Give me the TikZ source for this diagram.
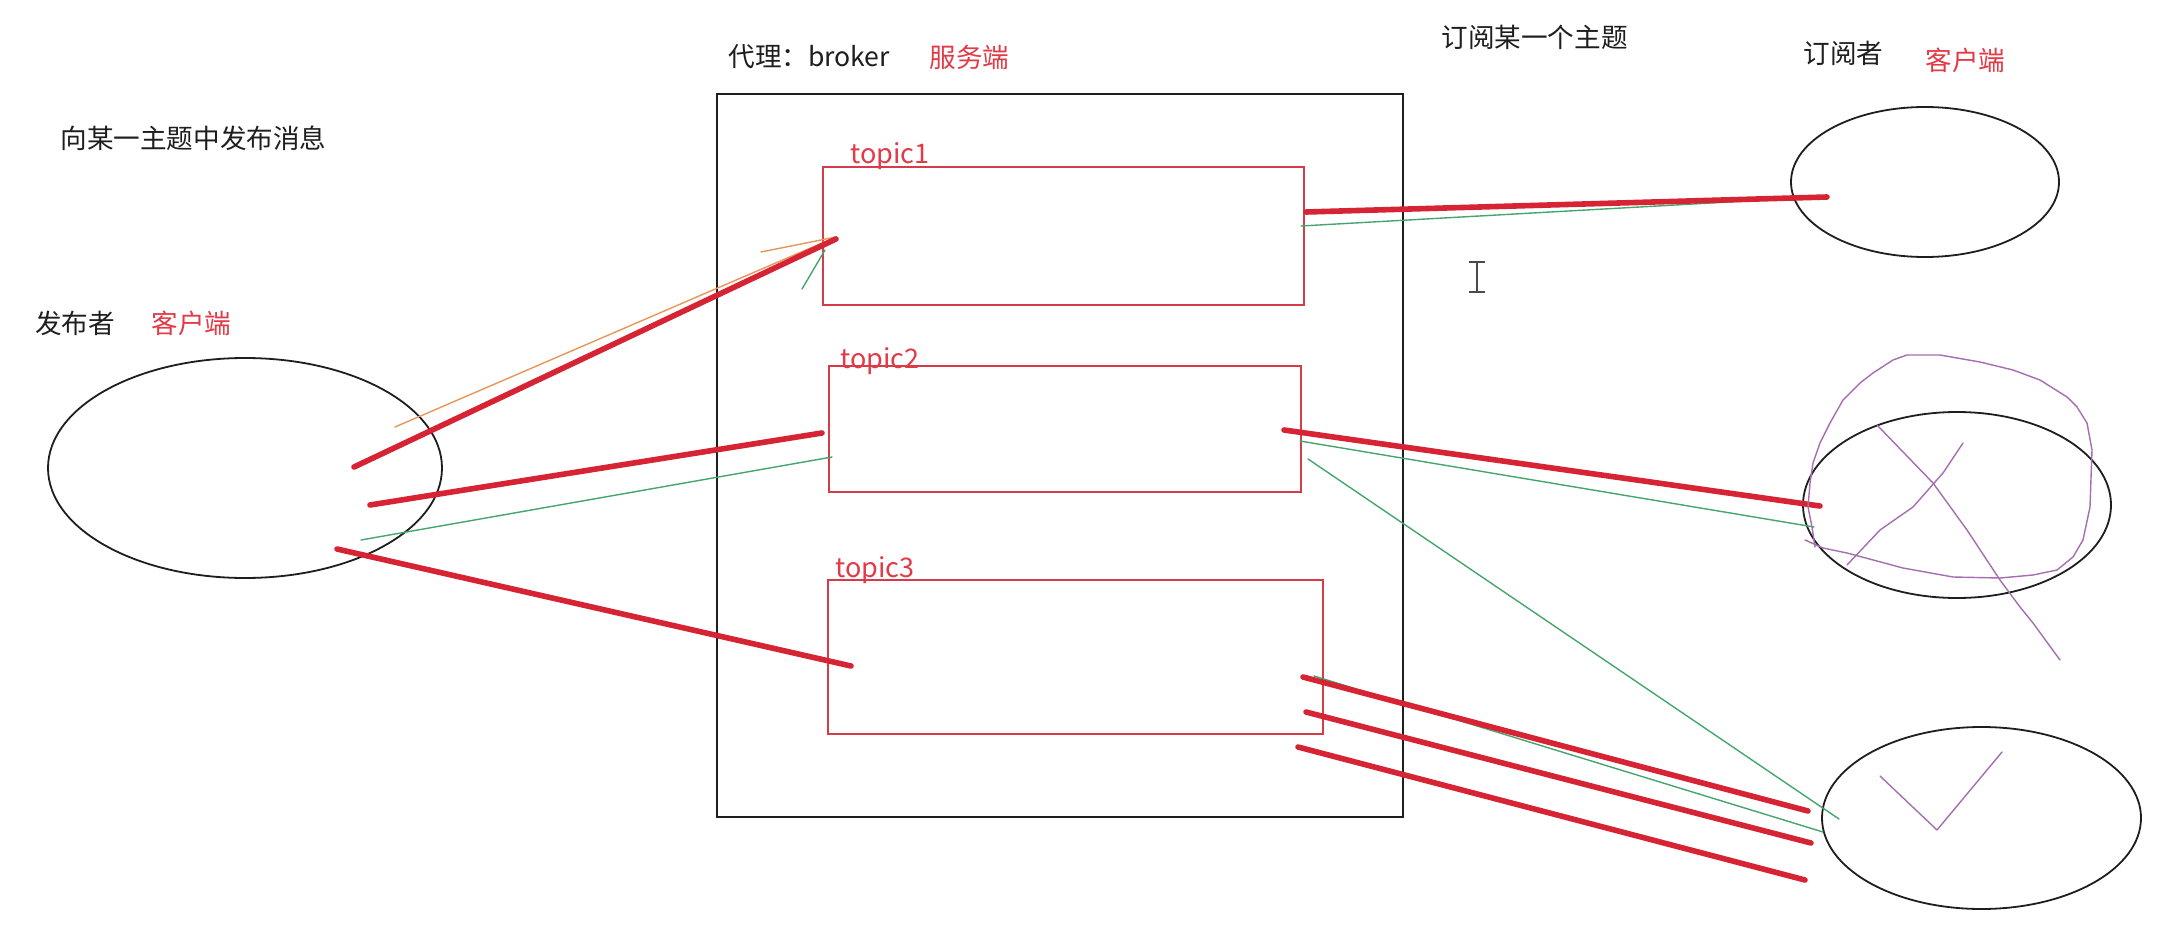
\documentclass[tikz,border=0pt]{standalone}
\usepackage{fontspec}
\setmainfont{Noto Sans CJK SC}
\usetikzlibrary{shapes.geometric}
\definecolor{inkred}{RGB}{214,36,52}
\definecolor{txtred}{RGB}{226,58,70}
\definecolor{boxred}{RGB}{214,60,72}
\definecolor{inkgreen}{RGB}{70,165,110}
\definecolor{inkorange}{RGB}{232,150,90}
\definecolor{inkpurple}{RGB}{165,110,175}
\definecolor{inkblack}{RGB}{30,30,30}
\tikzset{
  blackbox/.style={draw=inkblack, line width=0.9pt, inner sep=0pt, outer sep=0pt, rectangle},
  topicbox/.style={draw=boxred, line width=0.75pt, inner sep=0pt, outer sep=0pt, rectangle},
  client/.style={draw=inkblack, line width=0.9pt, inner sep=0pt, outer sep=0pt, ellipse},
  lbl/.style={inner sep=0pt, anchor=west, font=\fontsize{13.3}{16}\selectfont, text=inkblack},
  redlbl/.style={lbl, text=txtred},
  topiclbl/.style={lbl, text=txtred, font=\fontsize{13.5}{16}\selectfont},
  thick red/.style={draw=inkred, line width=2.8pt, line cap=round},
  thin green/.style={draw=inkgreen, line width=0.7pt, line cap=round},
  thin orange/.style={draw=inkorange, line width=0.7pt, line cap=round},
  scribble/.style={draw=inkpurple, line width=0.7pt, line cap=round, line join=round},
}
\begin{document}
\begin{tikzpicture}[x=0.5pt, y=-0.5pt]
\useasboundingbox[fill=white] (0,0) rectangle (2160,937);

% texts
\node[lbl] (brokerlbl) at (728,57) {代理：broker};
\node[redlbl] (serverlbl) at (929,57) {服务端};
\node[lbl] (pubmsg) at (60,138) {向某一主题中发布消息};
\node[lbl] (publbl) at (35,323) {发布者};
\node[redlbl] (pubclient) at (151,323) {客户端};
\node[lbl] (submsg) at (1441,37) {订阅某一个主题};
\node[lbl] (sublbl) at (1803,53) {订阅者};
\node[redlbl] (subclient) at (1925,60) {客户端};

% broker and topics
\node[blackbox, minimum width=343pt, minimum height=361.5pt] (broker) at (1060,455.5) {};
\node[topicbox, minimum width=240.5pt, minimum height=69pt] (topic1) at (1063.5,236) {};
\node[topicbox, minimum width=236pt, minimum height=63pt] (topic2) at (1065,429) {};
\node[topicbox, minimum width=247.5pt, minimum height=77pt] (topic3) at (1075.5,657) {};
\node[topiclbl] (t1lbl) at (850,156) {topic1};
\node[topiclbl] (t2lbl) at (840,361) {topic2};
\node[topiclbl] (t3lbl) at (835,570) {topic3};

% clients
\node[client, minimum width=197pt, minimum height=110pt] (pub) at (245,468) {};
\node[client, minimum width=134pt, minimum height=75pt] (sub1) at (1925,182) {};
\node[client, minimum width=154pt, minimum height=93pt] (sub2) at (1957,505) {};
\node[client, minimum width=159.5pt, minimum height=91pt] (sub3) at (1981.5,818) {};

% stroke end points
\coordinate (pA) at (354,467);  \coordinate (t1in) at (836,239);
\coordinate (pO) at (395,427);  \coordinate (t1o) at (836,237);
\coordinate (oh) at (761,252);
\coordinate (gh1) at (802,289); \coordinate (gh2) at (825,250);
\coordinate (pB) at (370,505);  \coordinate (t2in) at (822,433);
\coordinate (pG) at (361,540);  \coordinate (t2g) at (832,457);
\coordinate (pC) at (337,549);  \coordinate (t3in) at (851,666);

\coordinate (t1r) at (1306,212); \coordinate (s1r) at (1827,197);
\coordinate (t1g) at (1301,226); \coordinate (s1g) at (1800,198);
\coordinate (t2r) at (1284,430); \coordinate (s2r) at (1820,506);
\coordinate (t2go) at (1300,441); \coordinate (s2g) at (1814,527);
\coordinate (t2gd) at (1308,459); \coordinate (s3gd) at (1839,819);
\coordinate (t3a) at (1303,677); \coordinate (s3a) at (1808,811);
\coordinate (t3g) at (1314,676); \coordinate (s3g) at (1823,832);
\coordinate (t3b) at (1306,712); \coordinate (s3b) at (1811,843);
\coordinate (t3c) at (1298,747); \coordinate (s3c) at (1805,880);

% publisher side strokes
\draw[thin orange] (pO) -- (t1o);
\draw[thin orange] (oh) -- (t1o);
\draw[thin green] (gh1) -- (gh2);
\draw[thick red] (pA) -- (t1in);
\draw[thick red] (pB) -- (t2in);
\draw[thin green] (pG) -- (t2g);
\draw[thick red] (pC) -- (t3in);

% subscriber side strokes
\draw[thin green] (t1g) -- (s1g);
\draw[thick red] (t1r) -- (s1r);
\draw[thin green] (t2go) -- (s2g);
\draw[thin green] (t2gd) -- (s3gd);
\draw[thick red] (t2r) -- (s2r);
\draw[thin green] (t3g) -- (s3g);
\draw[thick red] (t3a) -- (s3a);
\draw[thick red] (t3b) -- (s3b);
\draw[thick red] (t3c) -- (s3c);

% purple scribbles
\draw[scribble] (1805,540) -- (1823,548) -- (1847,553) -- (1903,568) -- (1953,577) -- (2000,578) -- (2033,575) -- (2057,570) -- (2073,557) -- (2083,540) -- (2090,507) -- (2092,450) -- (2087,423) -- (2077,407) -- (2067,397) -- (2040,380) -- (2013,370) -- (1980,362) -- (1957,358) -- (1940,355) -- (1907,355) -- (1893,360) -- (1873,373) -- (1860,383) -- (1843,400) -- (1830,423) -- (1820,443) -- (1813,463) -- (1810,483) -- (1808,507) -- (1812,527) -- (1815,547);
\draw[scribble] (1877,425) -- (1933,483) -- (1967,530) -- (2000,580) -- (2020,607) -- (2033,623) -- (2060,660);
\draw[scribble] (1963,443) -- (1943,473) -- (1913,507) -- (1880,530) -- (1847,565);
\draw[scribble] (1880,776) -- (1937,830) -- (2002,752);

% text cursor
\draw[draw=inkblack!80, line width=0.8pt] (1477,262) -- (1477,292)
  (1469,262) -- (1485,262) (1469,292) -- (1485,292);
\end{tikzpicture}
\end{document}
